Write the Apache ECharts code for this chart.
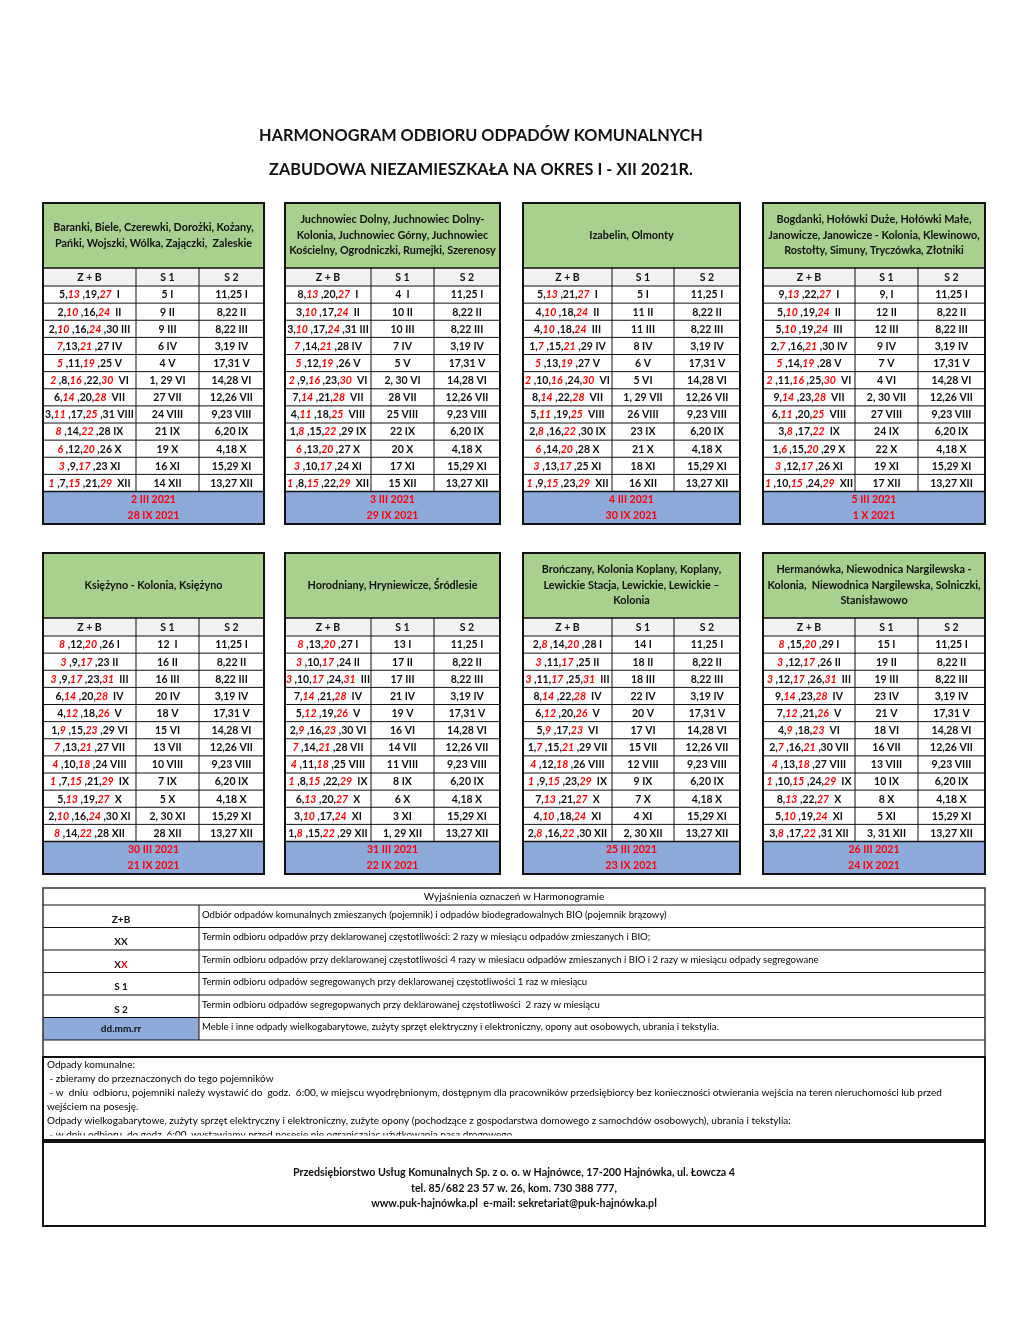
<!DOCTYPE html>
<html>
<head>
<meta charset="utf-8">
<script src="https://cdn.jsdelivr.net/npm/echarts@6/dist/echarts.min.js"></script>
<style>
  html, body { margin: 0; padding: 0; background: #fff; }
  #chart { width: 1020px; height: 1320px; }
</style>
</head>
<body>
<div id="chart"></div>
<script>
// --- texts and values ---
const titleLines = ['HARMONOGRAM ODBIORU ODPADÓW KOMUNALNYCH', 'ZABUDOWA NIEZAMIESZKAŁA NA OKRES I - XII 2021R.'];
const colHeads = ['Z + B', 'S 1', 'S 2'];

const areaNames = [
  'Baranki, Biele, Czerewki, Dorożki, Kożany,\nPańki, Wojszki, Wólka, Zajączki,  Zaleskie',
  'Juchnowiec Dolny, Juchnowiec Dolny-\nKolonia, Juchnowiec Górny, Juchnowiec\nKościelny, Ogrodniczki, Rumejki, Szerenosy',
  'Izabelin, Olmonty',
  'Bogdanki, Hołówki Duże, Hołówki Małe,\nJanowicze, Janowicze - Kolonia, Klewinowo,\nRostołty, Simuny, Tryczówka, Złotniki',
  'Księżyno - Kolonia, Księżyno',
  'Horodniany, Hryniewicze, Śródlesie',
  'Brończany, Kolonia Koplany, Koplany,\nLewickie Stacja, Lewickie, Lewickie –\nKolonia',
  'Hermanówka, Niewodnica Nargilewska -\nKolonia,  Niewodnica Nargilewska, Solniczki,\nStanisławowo'
];

// [n] = red date (4 razy w miesiącu)
const zb1 = ['5,[13] ,19,[27]  I', '2,[10] ,16,[24]  II', '2,[10] ,16,[24] ,30 III', '[7],13,[21] ,27 IV', '[5] ,11,[19] ,25 V', '[2] ,8,[16] ,22,[30]  VI',
  '6,[14] ,20,[28]  VII', '3,[11] ,17,[25] ,31 VIII', '[8] ,14,[22] ,28 IX', '[6] ,12,[20] ,26 X', '[3] ,9,[17] ,23 XI', '[1] ,7,[15] ,21,[29]  XII'];
const zb2 = ['8,[13] ,20,[27]  I', '3,[10] ,17,[24]  II', '3,[10] ,17,[24] ,31 III', '[7] ,14,[21] ,28 IV', '[5] ,12,[19] ,26 V', '[2] ,9,[16] ,23,[30]  VI',
  '7,[14] ,21,[28]  VII', '4,[11] ,18,[25]  VIII', '1,[8] ,15,[22] ,29 IX', '[6] ,13,[20] ,27 X', '[3] ,10,[17] ,24 XI', '[1] ,8,[15] ,22,[29]  XII'];
const zb3 = ['5,[13] ,21,[27]  I', '4,[10] ,18,[24]  II', '4,[10] ,18,[24]  III', '1,[7] ,15,[21] ,29 IV', '[5] ,13,[19] ,27 V', '[2] ,10,[16] ,24,[30]  VI',
  '8,[14] ,22,[28]  VII', '5,[11] ,19,[25]  VIII', '2,[8] ,16,[22] ,30 IX', '[6] ,14,[20] ,28 X', '[3] ,13,[17] ,25 XI', '[1] ,9,[15] ,23,[29]  XII'];
const zb4 = ['9,[13] ,22,[27]  I', '5,[10] ,19,[24]  II', '5,[10] ,19,[24]  III', '2,[7] ,16,[21] ,30 IV', '[5] ,14,[19] ,28 V', '[2] ,11,[16] ,25,[30]  VI',
  '9,[14] ,23,[28]  VII', '6,[11] ,20,[25]  VIII', '3,[8] ,17,[22]  IX', '1,[6] ,15,[20] ,29 X', '[3] ,12,[17] ,26 XI', '[1] ,10,[15] ,24,[29]  XII'];
const zb5 = ['[8] ,12,[20] ,26 I', '[3] ,9,[17] ,23 II', '[3] ,9,[17] ,23,[31]  III', '6,[14] ,20,[28]  IV', '4,[12] ,18,[26]  V', '1,[9] ,15,[23] ,29 VI',
  '[7] ,13,[21] ,27 VII', '[4] ,10,[18] ,24 VIII', '[1] ,7,[15] ,21,[29]  IX', '5,[13] ,19,[27]  X', '2,[10] ,16,[24] ,30 XI', '[8] ,14,[22] ,28 XII'];
const zb6 = ['[8] ,13,[20] ,27 I', '[3] ,10,[17] ,24 II', '[3] ,10,[17] ,24,[31]  III', '7,[14] ,21,[28]  IV', '5,[12] ,19,[26]  V', '2,[9] ,16,[23] ,30 VI',
  '[7] ,14,[21] ,28 VII', '[4] ,11,[18] ,25 VIII', '[1] ,8,[15] ,22,[29]  IX', '6,[13] ,20,[27]  X', '3,[10] ,17,[24]  XI', '1,[8] ,15,[22] ,29 XII'];
const zb7 = ['2,[8] ,14,[20] ,28 I', '[3] ,11,[17] ,25 II', '[3] ,11,[17] ,25,[31]  III', '8,[14] ,22,[28]  IV', '6,[12] ,20,[26]  V', '5,[9] ,17,[23]  VI',
  '1,[7] ,15,[21] ,29 VII', '[4] ,12,[18] ,26 VIII', '[1] ,9,[15] ,23,[29]  IX', '7,[13] ,21,[27]  X', '4,[10] ,18,[24]  XI', '2,[8] ,16,[22] ,30 XII'];
const zb8 = ['[8] ,15,[20] ,29 I', '[3] ,12,[17] ,26 II', '[3] ,12,[17] ,26,[31]  III', '9,[14] ,23,[28]  IV', '7,[12] ,21,[26]  V', '4,[9] ,18,[23]  VI',
  '2,[7] ,16,[21] ,30 VII', '[4] ,13,[18] ,27 VIII', '[1] ,10,[15] ,24,[29]  IX', '8,[13] ,22,[27]  X', '5,[10] ,19,[24]  XI', '3,[8] ,17,[22] ,31 XII'];

const s1_1 = ['5 I', '9 II', '9 III', '6 IV', '4 V', '1, 29 VI', '27 VII', '24 VIII', '21 IX', '19 X', '16 XI', '14 XII'];
const s1_2 = ['4  I', '10 II', '10 III', '7 IV', '5 V', '2, 30 VI', '28 VII', '25 VIII', '22 IX', '20 X', '17 XI', '15 XII'];
const s1_3 = ['5 I', '11 II', '11 III', '8 IV', '6 V', '5 VI', '1, 29 VII', '26 VIII', '23 IX', '21 X', '18 XI', '16 XII'];
const s1_4 = ['9, I', '12 II', '12 III', '9 IV', '7 V', '4 VI', '2, 30 VII', '27 VIII', '24 IX', '22 X', '19 XI', '17 XII'];
const s1_5 = ['12  I', '16 II', '16 III', '20 IV', '18 V', '15 VI', '13 VII', '10 VIII', '7 IX', '5 X', '2, 30 XI', '28 XII'];
const s1_6 = ['13 I', '17 II', '17 III', '21 IV', '19 V', '16 VI', '14 VII', '11 VIII', '8 IX', '6 X', '3 XI', '1, 29 XII'];
const s1_7 = ['14 I', '18 II', '18 III', '22 IV', '20 V', '17 VI', '15 VII', '12 VIII', '9 IX', '7 X', '4 XI', '2, 30 XII'];
const s1_8 = ['15 I', '19 II', '19 III', '23 IV', '21 V', '18 VI', '16 VII', '13 VIII', '10 IX', '8 X', '5 XI', '3, 31 XII'];

const s2Dates = ['11,25 I', '8,22 II', '8,22 III', '3,19 IV', '17,31 V', '14,28 VI', '12,26 VII', '9,23 VIII', '6,20 IX', '4,18 X', '15,29 XI', '13,27 XII'];

const bulky1 = ['2 III 2021', '28 IX 2021'];
const bulky2 = ['3 III 2021', '29 IX 2021'];
const bulky3 = ['4 III 2021', '30 IX 2021'];
const bulky4 = ['5 III 2021', '1 X 2021'];
const bulky5 = ['30 III 2021', '21 IX 2021'];
const bulky6 = ['31 III 2021', '22 IX 2021'];
const bulky7 = ['25 III 2021', '23 IX 2021'];
const bulky8 = ['26 III 2021', '24 IX 2021'];

const legendTitle = 'Wyjaśnienia oznaczeń w Harmonogramie';
const legendKeys = ['Z+B', 'XX', 'X[X]', 'S 1', 'S 2', 'dd.mm.rr'];
const legendDescs = [
  'Odbiór odpadów komunalnych zmieszanych (pojemnik) i odpadów biodegradowalnych BIO (pojemnik brązowy)',
  'Termin odbioru odpadów przy deklarowanej częstotliwości: 2 razy w miesiącu odpadów zmieszanych i BIO;',
  'Termin odbioru odpadów przy deklarowanej częstotliwości 4 razy w miesiacu odpadów zmieszanych i BIO i 2 razy w miesiącu odpady segregowane',
  'Termin odbioru odpadów segregowanych przy deklarowanej częstotliwości 1 raz w miesiącu',
  'Termin odbioru odpadów segregopwanych przy deklarowanej częstotliwości  2 razy w miesiącu',
  'Meble i inne odpady wielkogabarytowe, zużyty sprzęt elektryczny i elektroniczny, opony aut osobowych, ubrania i tekstylia.'
];

const noteLines = [
  'Odpady komunalne:',
  ' - zbieramy do przeznaczonych do tego pojemników',
  ' - w  dniu  odbioru, pojemniki należy wystawić do  godz.  6:00, w miejscu wyodrębnionym, dostępnym dla pracowników przedsiębiorcy bez konieczności otwierania wejścia na teren nieruchomości lub przed',
  'wejściem na posesję.',
  'Odpady wielkogabarytowe, zużyty sprzęt elektryczny i elektroniczny, zużyte opony (pochodzące z gospodarstwa domowego z samochdów osobowych), ubrania i tekstylia:',
  ' - w dniu odbioru, do godz. 6:00, wystawiamy przed posesję nie ograniczając użytkowania pasa drogowego'
];

const footerLines = [
  'Przedsiębiorstwo Usług Komunalnych Sp. z o. o. w Hajnówce, 17-200 Hajnówka, ul. Łowcza 4',
  'tel. 85/682 23 57 w. 26, kom. 730 388 777,',
  'www.puk-hajnówka.pl  e-mail: sekretariat@puk-hajnówka.pl'
];

const blocks = [
  { zb: zb1, s1: s1_1, bulky: bulky1 }, { zb: zb2, s1: s1_2, bulky: bulky2 },
  { zb: zb3, s1: s1_3, bulky: bulky3 }, { zb: zb4, s1: s1_4, bulky: bulky4 },
  { zb: zb5, s1: s1_5, bulky: bulky5 }, { zb: zb6, s1: s1_6, bulky: bulky6 },
  { zb: zb7, s1: s1_7, bulky: bulky7 }, { zb: zb8, s1: s1_8, bulky: bulky8 }
];

// --- layout ---
const FONT = 'Lato, "Liberation Sans", sans-serif';
const GREEN = '#a9d08e', GREY = '#f2f2f2', BLUE = '#8eaadb', RED = '#ff0000', INK = '#111';
const colX = [[43, 136, 199, 264], [285, 371, 434, 500], [523, 612, 674, 740], [763, 855, 918, 985]];
const bandTop = [203, 553];
const headH = 65, colHeadH = 18, rowH = 17.125, blueH = 32.5;

const els = [];

function rect (x, y, w, h, fill, stroke, lw) {
  els.push({ type: 'rect', shape: { x, y, width: w, height: h }, style: { fill: fill || 'none', stroke: stroke || null, lineWidth: lw || 0 }, z: stroke ? 10 : 1 });
}
function line (x1, y1, x2, y2, lw) {
  els.push({ type: 'line', shape: { x1, y1, x2, y2 }, style: { stroke: INK, lineWidth: lw || 1 }, z: 8 });
}
function text (x, y, str, opts) {
  opts = opts || {};
  els.push({
    type: 'text', x, y, z: 20,
    style: Object.assign({
      text: str, fontFamily: FONT, fontSize: 10.5, fontWeight: 'bold', fill: INK,
      align: 'center', verticalAlign: 'middle'
    }, opts)
  });
}
const richStyles = {
  b: { fontFamily: FONT, fontSize: 10.5, fontWeight: 'bold', fill: INK },
  r: { fontFamily: FONT, fontSize: 10.5, fontWeight: 'bold', fontStyle: 'italic', fill: RED }
};
function toRich (s) {
  return s.split(/(\[[^\]]+\])/).filter(p => p).map(p => p[0] === '[' ? '{r|' + p.slice(1, -1) + '}' : '{b|' + p + '}').join('');
}

// title
text(481, 136, titleLines[0], { fontSize: 16.3 });
text(481, 170, titleLines[1], { fontSize: 16.3 });

// blocks
blocks.forEach((b, i) => {
  const cx = colX[i % 4];
  const top = bandTop[Math.floor(i / 4)];
  const x0 = cx[0], w = cx[3] - cx[0];
  const yHead = top + headH, yRows = yHead + colHeadH, yBlue = yRows + 12 * rowH, yEnd = yBlue + blueH;

  rect(x0, top, w, headH, GREEN);
  rect(x0, yHead, w, colHeadH, GREY);
  rect(x0, yBlue, w, blueH, BLUE);

  const nameLines = areaNames[i].split('\n');
  nameLines.forEach((ln, k) => {
    text(x0 + w / 2, top + headH / 2 + (k - (nameLines.length - 1) / 2) * 15.5, ln, { fontSize: 10.8 });
  });

  // grid lines
  line(x0, yHead, x0 + w, yHead, 1.5);
  for (let r = 0; r <= 12; r++) line(x0, yRows + r * rowH, x0 + w, yRows + r * rowH, r === 12 ? 1.5 : 1);
  line(cx[1], yHead, cx[1], yBlue, 1);
  line(cx[2], yHead, cx[2], yBlue, 1);
  rect(x0, top, w, yEnd - top, null, INK, 2);

  colHeads.forEach((h, c) => text((cx[c] + cx[c + 1]) / 2, yHead + colHeadH / 2 + 0.5, h));

  for (let r = 0; r < 12; r++) {
    const y = yRows + r * rowH + rowH / 2 + 0.5;
    text((cx[0] + cx[1]) / 2, y, toRich(b.zb[r]), { rich: richStyles });
    text((cx[1] + cx[2]) / 2, y, b.s1[r]);
    text((cx[2] + cx[3]) / 2, y, s2Dates[r]);
  }
  text(x0 + w / 2, yBlue + 8.5, b.bulky[0], { fill: RED });
  text(x0 + w / 2, yBlue + 24.5, b.bulky[1], { fill: RED });
});

// legend table
const L = { x0: 43, x1: 985, split: 199, top: 888, headH: 17, rowH: 22.5 };
const legRows0 = L.top + L.headH;
text((L.x0 + L.x1) / 2, L.top + L.headH / 2 + 0.5, legendTitle, { fontSize: 10, fontWeight: 'normal', fill: '#000' });
legendKeys.forEach((k, i) => {
  const y = legRows0 + i * L.rowH;
  if (i === legendKeys.length - 1) rect(L.x0, y, L.split - L.x0, L.rowH, BLUE);
  text((L.x0 + L.split) / 2, y + L.rowH / 2 + (i === 5 ? 0 : 3.5), toRich(k), {
    rich: { b: { fontFamily: FONT, fontSize: 10, fontWeight: 'bold', fill: INK }, r: { fontFamily: FONT, fontSize: 10, fontWeight: 'bold', fill: RED } }
  });
  text(L.split + 3, y + L.rowH / 2 - 1.5, legendDescs[i], { fontSize: 9.6, fontWeight: 'normal', align: 'left', fill: '#000' });
  line(L.x0, y, L.x1, y, 1);
});
const legBottom = legRows0 + legendKeys.length * L.rowH;
line(L.x0, legBottom, L.x1, legBottom, 1);
line(L.split, legRows0, L.split, legBottom, 1);

// outer frame
rect(L.x0, L.top, L.x1 - L.x0, 1226 - L.top, null, '#333', 1.5);

// notes box
const N = { top: 1057, bottom: 1140 };
noteLines.forEach((ln, i) => {
  text(47, N.top + 8 + i * 14, ln, { fontSize: 10, fontWeight: 'normal', align: 'left', fill: '#000' });
});
els.push({ type: 'rect', shape: { x: L.x0 + 1, y: N.bottom - 4.5, width: L.x1 - L.x0 - 2, height: 10 }, style: { fill: '#fff' }, z: 25 });
els.push({ type: 'rect', shape: { x: L.x0, y: N.top, width: L.x1 - L.x0, height: N.bottom - N.top }, style: { fill: 'none', stroke: INK, lineWidth: 2 }, z: 30 });

// footer box
const F = { top: 1142, bottom: 1226 };
footerLines.forEach((ln, i) => text(514, 1173 + i * 15.5, ln, { fontSize: 10.7 }));
els.push({ type: 'rect', shape: { x: L.x0, y: F.top, width: L.x1 - L.x0, height: F.bottom - F.top }, style: { fill: 'none', stroke: INK, lineWidth: 2 }, z: 30 });

const chart = echarts.init(document.getElementById('chart'), null, { renderer: 'canvas' });
chart.setOption({
  animation: false,
  backgroundColor: '#fff',
  graphic: { elements: els }
});
</script>
</body>
</html>
